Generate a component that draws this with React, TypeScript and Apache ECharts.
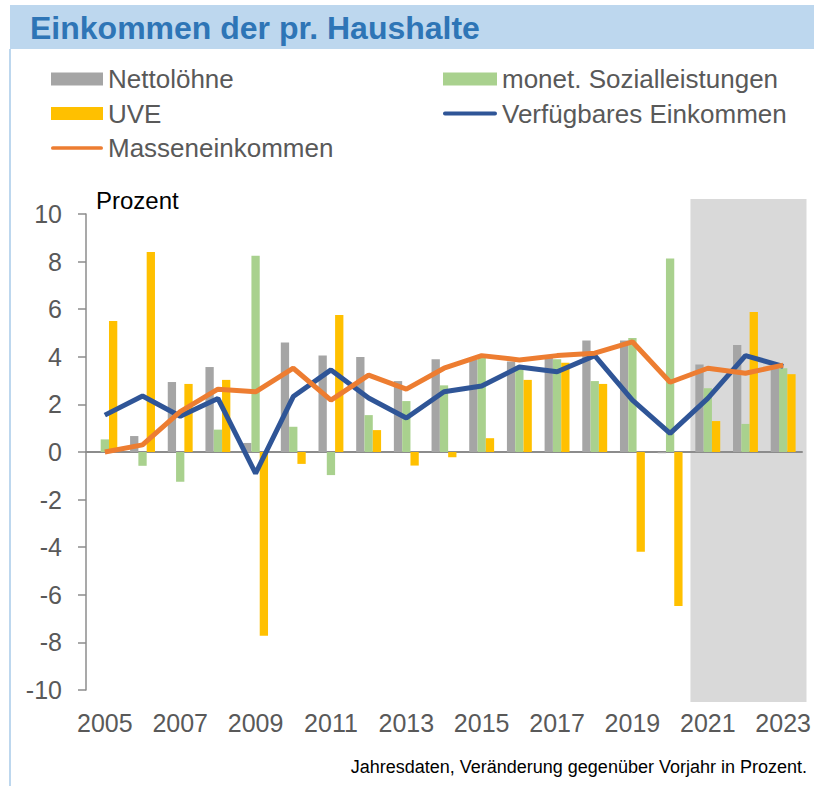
import React, { useEffect, useRef } from 'react';
import * as echarts from 'echarts';

const years = ['2005', '2006', '2007', '2008', '2009', '2010', '2011', '2012', '2013', '2014', '2015', '2016', '2017', '2018', '2019', '2020', '2021', '2022', '2023'];
const nettoloehne = [0, 0.67, 2.94, 3.57, 0.38, 4.6, 4.05, 3.99, 2.98, 3.9, 3.87, 3.8, 4.07, 4.69, 4.69, -0.05, 3.68, 4.5, 3.52];
const sozialleistungen = [0.53, -0.58, -1.25, 0.94, 8.25, 1.06, -0.97, 1.55, 2.14, 2.8, 4.0, 3.6, 3.9, 2.98, 4.79, 8.13, 2.68, 1.18, 3.52];
const uve = [5.5, 8.4, 2.86, 3.03, -7.72, -0.5, 5.76, 0.92, -0.57, -0.22, 0.58, 3.03, 3.75, 2.86, -4.19, -6.47, 1.3, 5.88, 3.27];
const verfuegbar = [1.55, 2.35, 1.5, 2.25, -0.9, 2.33, 3.45, 2.27, 1.43, 2.53, 2.77, 3.57, 3.37, 4.05, 2.18, 0.78, 2.25, 4.05, 3.6];
const masseneinkommen = [0.0, 0.3, 1.7, 2.64, 2.53, 3.52, 2.18, 3.23, 2.64, 3.52, 4.05, 3.87, 4.05, 4.15, 4.63, 2.93, 3.52, 3.31, 3.65];
const yMin = -10;
const yMax = 10;
const yInterval = 2;
const forecastStart = '2021';
const forecastEnd = '2023';

const FONT = 'Arial, "Liberation Sans", sans-serif';
const LINE_ICON = 'path://M2,0H54A2,2 0 0 1 54,4H2A2,2 0 0 1 2,0Z';

export default function App() {
  const ref = useRef<HTMLDivElement>(null);
  useEffect(() => {
    document.body.style.margin = '0';
    const chart = echarts.init(ref.current!, null, { renderer: 'svg' });
    const legendText = { fontSize: 26, color: '#595959', fontFamily: FONT };
    const barBase = { type: 'bar', barWidth: 8.3, barGap: '0%', xAxisIndex: 0, yAxisIndex: 0 };
    chart.setOption({
      animation: false,
      backgroundColor: '#ffffff',
      textStyle: { fontFamily: FONT },
      grid: { left: 86, right: 12, top: 214, bottom: 96, containLabel: false },
      legend: [
        {
          left: 46, top: 61, orient: 'vertical', itemWidth: 52, itemHeight: 13, itemGap: 8.5,
          selectedMode: false, textStyle: legendText, itemStyle: { borderWidth: 0 },
          data: [
            { name: 'Nettolöhne', icon: 'rect' },
            { name: 'UVE', icon: 'rect' },
            { name: 'Masseneinkommen', icon: LINE_ICON },
          ],
        },
        {
          left: 438, top: 61, orient: 'vertical', itemWidth: 54, itemHeight: 13, itemGap: 8.5,
          selectedMode: false, textStyle: legendText, itemStyle: { borderWidth: 0 },
          data: [
            { name: 'monet. Sozialleistungen', icon: 'rect' },
            { name: 'Verfügbares Einkommen', icon: LINE_ICON },
          ],
        },
      ],
      xAxis: [
        {
          type: 'category', data: years, position: 'bottom',
          axisLine: { show: false, onZero: false }, axisTick: { show: false },
          axisLabel: { interval: 1, fontSize: 25, color: '#595959', margin: 20, fontFamily: FONT },
          splitLine: { show: false },
        },
        {
          type: 'category', data: years, position: 'bottom',
          axisLine: { show: true, onZero: true, lineStyle: { color: '#8c8c8c', width: 2 } },
          axisTick: { show: false }, axisLabel: { show: false }, splitLine: { show: false },
        },
      ],
      yAxis: {
        type: 'value', min: yMin, max: yMax, interval: yInterval,
        axisLine: { show: true, lineStyle: { color: '#8c8c8c', width: 1.5 } },
        axisTick: { show: true, inside: false, length: 8, lineStyle: { color: '#8c8c8c', width: 1.5 } },
        splitLine: { show: false },
        axisLabel: { fontSize: 25, color: '#595959', margin: 24, fontFamily: FONT },
      },
      series: [
        { ...barBase, name: 'Nettolöhne', data: nettoloehne, itemStyle: { color: '#A5A5A5' } },
        { ...barBase, name: 'monet. Sozialleistungen', data: sozialleistungen, itemStyle: { color: '#A9D18E' } },
        { ...barBase, name: 'UVE', data: uve, itemStyle: { color: '#FFC000' } },
        {
          type: 'line', name: 'Verfügbares Einkommen', data: verfuegbar, symbol: 'none', z: 3,
          itemStyle: { color: '#2F5597' }, lineStyle: { color: '#2F5597', width: 5 },
        },
        {
          type: 'line', name: 'Masseneinkommen', data: masseneinkommen, symbol: 'none', z: 4,
          itemStyle: { color: '#ED7D31' }, lineStyle: { color: '#ED7D31', width: 5 },
        },
      ],
    });

    const px = (c: string) => chart.convertToPixel({ xAxisIndex: 0 }, c) as number;
    const py = (v: number) => chart.convertToPixel({ yAxisIndex: 0 }, v) as number;
    const band = px(years[1]) - px(years[0]);
    const sx1 = px(forecastStart) - band / 2 + 1.5;
    const sx2 = px(forecastEnd) + band / 2 + 4.5;
    const sy1 = py(yMax) - 15;
    const sy2 = py(yMin) + 12;

    chart.setOption({
      graphic: [
        { type: 'rect', z: -10, silent: true, shape: { x: sx1, y: sy1, width: sx2 - sx1, height: sy2 - sy1 }, style: { fill: '#D9D9D9' } },
        { type: 'rect', z: -10, silent: true, shape: { x: 10, y: 5, width: 804, height: 44 }, style: { fill: '#BDD7EE' } },
        { type: 'line', z: -10, silent: true, shape: { x1: 10, y1: 49, x2: 10, y2: 786 }, style: { stroke: '#BDD7EE', lineWidth: 2 } },
        { type: 'text', silent: true, x: 30, y: 28, style: { text: 'Einkommen der pr. Haushalte', fontSize: 32, fontWeight: 'bold', fill: '#2E75B6', fontFamily: FONT, verticalAlign: 'middle', align: 'left' } },
        { type: 'text', silent: true, x: 96, y: 200, style: { text: 'Prozent', fontSize: 24, fill: '#000000', fontFamily: FONT, verticalAlign: 'middle', align: 'left' } },
        { type: 'text', silent: true, x: 807, y: 767, style: { text: 'Jahresdaten, Veränderung gegenüber Vorjahr in Prozent.', fontSize: 18, fill: '#000000', fontFamily: FONT, verticalAlign: 'middle', align: 'right' } },
      ],
    });

    return () => chart.dispose();
  }, []);
  return <div ref={ref} style={{ width: 814, height: 786 }} />;
}
